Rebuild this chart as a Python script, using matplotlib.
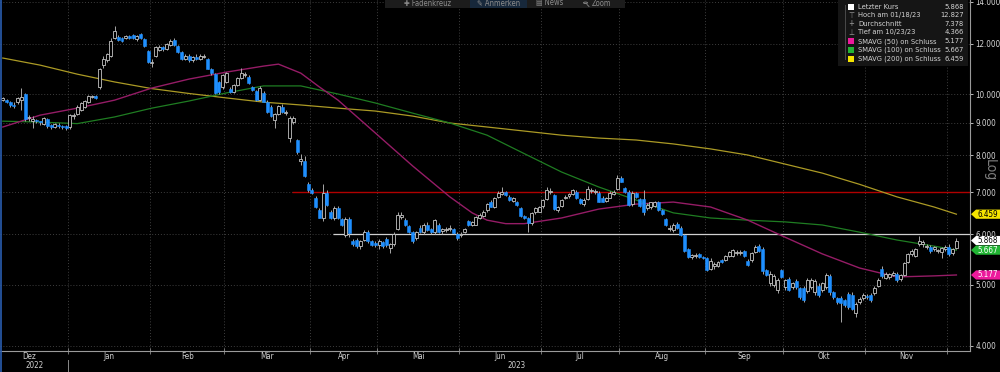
import numpy as np
import pandas as pd
import matplotlib
matplotlib.use("Agg")
import matplotlib.pyplot as plt
from matplotlib.patches import Rectangle, Polygon, Circle
from matplotlib.lines import Line2D
from matplotlib.ticker import NullLocator

plt.rcParams['font.family'] = ['DejaVu Sans']
plt.rcParams['font.stretch'] = 'condensed'

# trading days (Xetra), Dec 6 2022 - Dec 5 2023
holidays = ["2022-12-26", "2023-04-07", "2023-04-10", "2023-05-01"]
dates = pd.bdate_range("2022-12-06", "2023-12-05")
dates = dates[~dates.isin(pd.to_datetime(holidays))]

opens = [9.80, 9.80, 9.72, 9.62, 9.70, 9.80, 10.00, 9.15, 9.06, 9.08,
         9.05, 8.98, 9.12, 8.92, 8.88, 8.95, 8.90, 8.90, 8.86, 9.22,
         9.30, 9.45, 9.55, 9.72, 9.88, 9.92, 10.25, 11.10, 11.30, 11.50,
         12.26, 12.30, 12.25, 12.25, 12.35, 12.40, 12.22, 12.45, 12.20, 11.70,
         11.20, 11.50, 11.75, 11.85, 11.80, 11.95, 12.18, 11.90, 11.65, 11.35,
         11.50, 11.30, 11.45, 11.35, 11.45, 11.35, 10.97, 10.75, 10.45, 10.25,
         10.45, 10.20, 10.08, 10.35, 10.60, 10.72, 10.65, 10.25, 10.12, 9.80,
         10.05, 9.72, 9.55, 9.10, 9.30, 9.55, 9.33, 8.52, 9.02, 8.46,
         7.85, 7.85, 7.20, 7.06, 6.85, 6.56, 6.38, 6.98, 6.50, 6.38,
         6.60, 6.35, 5.98, 6.35, 5.86, 5.88, 5.75, 5.88, 6.05, 5.85,
         5.82, 5.78, 5.83, 5.90, 5.72, 5.80, 6.12, 6.40, 6.33, 6.18,
         6.05, 5.92, 6.15, 6.05, 6.22, 6.13, 6.05, 6.22, 6.08, 6.10,
         6.12, 6.12, 6.02, 5.98, 6.06, 6.30, 6.22, 6.22, 6.38, 6.42,
         6.55, 6.75, 6.63, 6.88, 6.96, 7.00, 6.88, 6.78, 6.75, 6.60,
         6.42, 6.38, 6.25, 6.50, 6.52, 6.65, 6.83, 7.00, 6.92, 6.55,
         6.66, 6.85, 6.90, 6.95, 7.00, 6.82, 6.70, 6.82, 7.02, 7.00,
         6.98, 6.86, 6.78, 6.86, 6.96, 7.08, 7.38, 7.10, 7.00, 6.70,
         6.98, 6.82, 6.82, 6.60, 6.62, 6.66, 6.74, 6.55, 6.34, 6.12,
         6.10, 6.24, 6.15, 5.98, 5.70, 5.52, 5.54, 5.58, 5.52, 5.50,
         5.30, 5.35, 5.35, 5.46, 5.47, 5.55, 5.55, 5.60, 5.60, 5.64,
         5.45, 5.46, 5.62, 5.76, 5.70, 5.27, 5.03, 5.00, 4.90, 5.27,
         4.95, 5.10, 4.95, 5.06, 4.93, 4.93, 4.88, 4.95, 4.86, 4.98,
         4.90, 4.96, 5.16, 4.86, 4.76, 4.76, 4.72, 4.83, 4.82, 4.50,
         4.70, 4.76, 4.80, 4.82, 4.84, 4.98, 5.30, 5.12, 5.14, 5.18,
         5.20, 5.10, 5.18, 5.42, 5.58, 5.55, 5.80, 5.80, 5.74, 5.74,
         5.70, 5.64, 5.62, 5.68, 5.74, 5.60, 5.72]
highs = [9.88, 9.82, 9.75, 9.70, 9.88, 10.22, 10.02, 9.25, 9.22, 9.12,
         9.08, 9.20, 9.15, 8.98, 9.00, 9.00, 8.95, 8.93, 9.30, 9.32,
         9.62, 9.72, 9.80, 9.98, 9.95, 9.97, 11.00, 11.50, 11.60, 12.25,
         12.827, 12.40, 12.30, 12.40, 12.40, 12.45, 12.40, 12.50, 12.25, 11.75,
         11.35, 11.90, 11.95, 11.90, 12.05, 12.20, 12.25, 11.95, 11.70, 11.55,
         11.55, 11.50, 11.55, 11.55, 11.55, 11.40, 11.00, 10.80, 10.50, 10.75,
         10.85, 10.25, 10.38, 10.65, 10.98, 10.85, 10.72, 10.30, 10.15, 10.28,
         10.10, 9.78, 9.60, 9.35, 9.62, 9.65, 9.42, 9.22, 9.22, 8.50,
         8.05, 7.98, 7.25, 7.10, 6.90, 6.60, 7.20, 7.05, 6.55, 6.65,
         6.65, 6.38, 6.40, 6.40, 5.90, 5.92, 5.88, 6.10, 6.10, 5.88,
         5.85, 5.90, 5.86, 5.95, 5.82, 6.05, 6.50, 6.52, 6.38, 6.20,
         6.08, 6.08, 6.20, 6.25, 6.28, 6.15, 6.35, 6.25, 6.15, 6.16,
         6.20, 6.15, 6.05, 6.06, 6.15, 6.33, 6.30, 6.42, 6.48, 6.55,
         6.72, 6.80, 6.88, 7.02, 7.12, 7.04, 6.92, 6.88, 6.78, 6.63,
         6.44, 6.40, 6.50, 6.62, 6.65, 6.82, 7.12, 7.10, 6.96, 6.65,
         6.82, 6.92, 6.98, 7.08, 7.05, 6.85, 6.85, 7.15, 7.10, 7.08,
         7.02, 6.90, 6.88, 7.02, 7.05, 7.45, 7.42, 7.14, 7.05, 7.02,
         7.00, 6.86, 7.05, 6.72, 6.76, 6.78, 6.78, 6.58, 6.37, 6.20,
         6.25, 6.28, 6.18, 6.00, 5.72, 5.58, 5.60, 5.60, 5.55, 5.52,
         5.50, 5.42, 5.44, 5.48, 5.56, 5.64, 5.70, 5.66, 5.66, 5.67,
         5.48, 5.62, 5.78, 5.80, 5.74, 5.30, 5.25, 5.20, 5.12, 5.30,
         5.10, 5.14, 5.05, 5.10, 4.96, 4.98, 5.12, 5.12, 5.10, 5.02,
         5.05, 5.22, 5.20, 4.88, 4.78, 4.79, 4.75, 4.86, 4.86, 4.70,
         4.78, 4.85, 4.83, 4.84, 4.98, 5.12, 5.34, 5.24, 5.22, 5.25,
         5.23, 5.20, 5.42, 5.60, 5.68, 5.72, 5.96, 5.88, 5.80, 5.78,
         5.76, 5.70, 5.74, 5.78, 5.80, 5.72, 5.92]
lows = [9.74, 9.68, 9.55, 9.52, 9.66, 9.45, 9.05, 9.05, 8.85, 9.00,
        8.95, 8.95, 8.85, 8.82, 8.84, 8.85, 8.80, 8.78, 8.82, 9.12,
        9.25, 9.40, 9.50, 9.68, 9.84, 9.82, 10.20, 11.00, 11.25, 11.45,
        12.20, 12.12, 12.10, 12.20, 12.20, 12.20, 12.15, 12.20, 11.85, 11.20,
        11.05, 11.45, 11.70, 11.70, 11.75, 11.90, 11.90, 11.60, 11.30, 11.30,
        11.25, 11.25, 11.30, 11.30, 11.40, 10.95, 10.70, 10.00, 10.00, 10.20,
        10.40, 10.05, 10.02, 10.30, 10.55, 10.65, 10.38, 10.10, 9.75, 9.75,
        9.70, 9.35, 9.20, 8.84, 9.25, 9.35, 9.28, 8.40, 8.98, 8.05,
        7.72, 7.40, 7.00, 6.95, 6.60, 6.36, 6.30, 6.65, 6.35, 6.32,
        6.35, 6.18, 5.95, 5.95, 5.75, 5.72, 5.70, 5.85, 5.82, 5.75,
        5.74, 5.70, 5.72, 5.74, 5.60, 5.75, 6.10, 6.35, 6.18, 6.03,
        5.82, 5.88, 6.03, 6.00, 6.08, 6.02, 6.00, 6.03, 6.02, 6.05,
        6.08, 6.00, 5.88, 5.95, 6.03, 6.18, 6.18, 6.20, 6.35, 6.40,
        6.52, 6.62, 6.60, 6.85, 6.92, 6.90, 6.78, 6.75, 6.66, 6.40,
        6.35, 6.05, 6.22, 6.47, 6.50, 6.60, 6.80, 6.95, 6.55, 6.50,
        6.62, 6.82, 6.86, 6.92, 6.82, 6.70, 6.66, 6.80, 6.98, 6.96,
        6.74, 6.74, 6.75, 6.84, 6.93, 7.05, 7.25, 6.98, 6.65, 6.65,
        6.85, 6.62, 6.45, 6.55, 6.58, 6.62, 6.54, 6.44, 6.18, 6.08,
        6.06, 6.12, 5.96, 5.62, 5.50, 5.48, 5.50, 5.50, 5.48, 5.25,
        5.27, 5.30, 5.32, 5.40, 5.44, 5.52, 5.52, 5.56, 5.57, 5.53,
        5.34, 5.43, 5.60, 5.62, 5.20, 5.15, 4.98, 4.96, 4.85, 5.12,
        4.90, 4.88, 4.92, 4.92, 4.75, 4.70, 4.85, 4.92, 4.82, 4.78,
        4.86, 4.92, 4.82, 4.74, 4.66, 4.366, 4.60, 4.58, 4.55, 4.44,
        4.66, 4.73, 4.74, 4.70, 4.82, 4.95, 5.12, 5.10, 5.10, 5.15,
        5.05, 5.06, 5.15, 5.40, 5.55, 5.52, 5.76, 5.74, 5.68, 5.60,
        5.65, 5.60, 5.50, 5.64, 5.55, 5.56, 5.68]
closes = [9.86, 9.71, 9.60, 9.58, 9.84, 9.88, 9.12, 9.18, 9.12, 9.05,
          9.02, 9.15, 8.90, 8.86, 8.97, 8.90, 8.88, 8.84, 9.25, 9.28,
          9.55, 9.68, 9.76, 9.92, 9.90, 9.86, 10.95, 11.35, 11.55, 12.15,
          12.60, 12.18, 12.15, 12.35, 12.25, 12.25, 12.35, 12.25, 11.90, 11.25,
          11.25, 11.85, 11.85, 11.78, 11.98, 12.15, 11.95, 11.65, 11.35, 11.50,
          11.30, 11.45, 11.35, 11.50, 11.50, 10.97, 10.78, 10.05, 10.07, 10.70,
          10.78, 10.08, 10.33, 10.60, 10.80, 10.76, 10.42, 10.13, 9.78, 10.22,
          9.72, 9.38, 9.23, 9.30, 9.58, 9.38, 9.37, 9.17, 9.18, 8.10,
          7.90, 7.42, 7.05, 6.98, 6.62, 6.38, 6.98, 6.68, 6.38, 6.60,
          6.38, 6.21, 6.35, 6.03, 5.80, 5.75, 5.85, 6.05, 5.85, 5.78,
          5.77, 5.85, 5.76, 5.77, 5.80, 6.02, 6.44, 6.45, 6.20, 6.06,
          5.85, 6.05, 6.05, 6.20, 6.10, 6.05, 6.32, 6.06, 6.11, 6.13,
          6.15, 6.03, 5.92, 6.02, 6.12, 6.20, 6.27, 6.40, 6.45, 6.50,
          6.70, 6.64, 6.85, 6.98, 7.00, 6.92, 6.80, 6.86, 6.68, 6.42,
          6.38, 6.25, 6.48, 6.60, 6.62, 6.80, 7.05, 7.02, 6.58, 6.63,
          6.80, 6.88, 6.95, 7.05, 6.86, 6.72, 6.80, 7.08, 7.05, 7.04,
          6.76, 6.76, 6.85, 6.98, 7.00, 7.38, 7.27, 7.00, 6.68, 6.98,
          6.88, 6.66, 6.50, 6.68, 6.74, 6.74, 6.56, 6.47, 6.21, 6.15,
          6.21, 6.15, 5.98, 5.65, 5.52, 5.56, 5.57, 5.53, 5.50, 5.28,
          5.45, 5.38, 5.42, 5.43, 5.54, 5.62, 5.67, 5.62, 5.63, 5.55,
          5.37, 5.60, 5.74, 5.64, 5.25, 5.18, 5.20, 5.16, 5.08, 5.14,
          5.08, 4.90, 5.02, 4.95, 4.78, 4.73, 5.08, 5.08, 5.06, 4.82,
          5.02, 5.18, 4.86, 4.77, 4.69, 4.68, 4.64, 4.60, 4.58, 4.66,
          4.74, 4.81, 4.77, 4.73, 4.94, 5.08, 5.15, 5.20, 5.20, 5.22,
          5.08, 5.17, 5.40, 5.58, 5.65, 5.70, 5.86, 5.84, 5.76, 5.64,
          5.72, 5.67, 5.72, 5.74, 5.58, 5.70, 5.868]

# moving averages (trading-day index, value)
sma50_idx = [0, 10, 20, 30, 40, 50, 60, 70, 74, 80, 85, 90, 100, 110, 120, 126, 130, 135,
             140, 150, 160, 170, 180, 190, 200, 210, 220, 230, 240, 250, 256]
sma50_val = [8.87, 9.26, 9.50, 9.78, 10.22, 10.56, 10.83, 11.07, 11.15, 10.79, 10.26, 9.78,
             8.68, 7.70, 6.88, 6.49, 6.32, 6.24, 6.24, 6.37, 6.58, 6.70, 6.75, 6.63, 6.32,
             5.94, 5.59, 5.31, 5.14, 5.16, 5.177]
ma_idx = [0, 10, 20, 30, 40, 50, 60, 70, 80, 90, 100, 110, 120, 130, 140, 150, 160, 170,
          180, 190, 200, 210, 220, 230, 240, 250, 256]
sma100_val = [9.06, 9.03, 8.98, 9.20, 9.50, 9.75, 10.04, 10.30, 10.30, 10.00, 9.68, 9.33,
              9.00, 8.61, 8.05, 7.53, 7.13, 6.80, 6.49, 6.37, 6.32, 6.28, 6.21, 6.05, 5.88,
              5.75, 5.667]
sma200_val = [11.40, 11.11, 10.75, 10.45, 10.20, 10.02, 9.86, 9.71, 9.61, 9.50, 9.40, 9.23,
              9.00, 8.87, 8.74, 8.61, 8.52, 8.46, 8.34, 8.19, 8.01, 7.75, 7.50, 7.20, 6.88,
              6.63, 6.459]

resistance = 7.0
support = 6.0
y_ticks = [4, 5, 6, 7, 8, 9, 10, 12, 14]
month_names = ["Jan", "Feb", "Mär", "Apr", "Mai", "Jun", "Jul", "Aug", "Sep", "Okt", "Nov", "Dez"]

legend_labels = ["Letzter Kurs", "Hoch am 01/18/23", "Durchschnitt", "Tief am 10/23/23",
                 "SMAVG (50) on Schluss", "SMAVG (100) on Schluss", "SMAVG (200) on Schluss"]
legend_values = ["5.868", "12.827", "7.378", "4.366", "5.177", "5.667", "6.459"]

c_up = "#c4c4c4"
c_down = "#1e8fff"
c_50, c_100, c_200 = "#951c66", "#1f7d22", "#ab9a25"
tag_50, tag_100, tag_200 = "#ec1a9c", "#22b534", "#f5e400"

W, H = 1000, 372
fig = plt.figure(figsize=(W / 100, H / 100), dpi=100, facecolor="black")
ax = fig.add_axes([0, 21 / H, 0.97, 351 / H])
ax.set_facecolor("black")
ax.set_yscale("log")
ax.set_ylim(3.926, 14.08)
ax.set_xlim(-0.75, 259.65)

idx = np.arange(len(dates))
o = np.array(opens)
h = np.array(highs)
l = np.array(lows)
c = np.array(closes)

# month boundaries
per = dates.to_period("M")
bounds = [i - 0.5 for i in range(1, len(dates)) if per[i] != per[i - 1]]

for v in y_ticks:
    ax.axhline(v, color="#3e3e3e", lw=0.7, ls=(0, (1, 2)), zorder=1)
for b in bounds:
    ax.axvline(b, color="#3e3e3e", lw=0.7, ls=(0, (1, 2)), zorder=1)

ax.hlines(resistance, 77.6, 259.65, color="#b00000", lw=1.0, zorder=2)
ax.hlines(support, 88.6, 259.65, color="#d0d0d0", lw=0.9, zorder=2)

ax.plot(ma_idx, sma200_val, color=c_200, lw=0.9, zorder=2)
ax.plot(ma_idx, sma100_val, color=c_100, lw=0.9, zorder=2)
ax.plot(sma50_idx, sma50_val, color=c_50, lw=1.0, zorder=2)

# candles
bottoms = np.minimum(o, c)
heights = np.maximum(np.abs(c - o), c * 0.004)
up = c >= o
ax.vlines(idx, l, h, colors="#a8a8a8", lw=0.7, zorder=3)
ax.bar(idx[up], heights[up], bottom=bottoms[up], width=0.8, facecolor="black",
       edgecolor=c_up, linewidth=0.6, zorder=4)
ax.bar(idx[~up], heights[~up], bottom=bottoms[~up], width=0.8, facecolor=c_down,
       edgecolor=c_down, linewidth=0.4, zorder=4)

# axes styling
for s in ["left", "top"]:
    ax.spines[s].set_visible(False)
for s in ["right", "bottom"]:
    ax.spines[s].set_color("#9a9a9a")
    ax.spines[s].set_linewidth(0.8)
ax.yaxis.tick_right()
ax.set_yticks(y_ticks)
ax.set_yticklabels([f"{v:.3f}" for v in y_ticks])
ax.yaxis.set_minor_locator(NullLocator())
ax.tick_params(axis="y", colors="#d8d8d8", labelsize=5.8, length=2.5, width=0.6, pad=1.5)
ax.set_xticks(bounds)
ax.set_xticklabels([])
ax.tick_params(axis="x", direction="inout", length=4, color="#8a8a8a", width=0.6)

# month labels (centred on each full month)
trans = ax.get_xaxis_transform()
for p in per.unique()[:-1]:
    last = np.where(per == p)[0][-1]
    full = pd.bdate_range(p.start_time, p.end_time)
    full = full[~full.isin(pd.to_datetime(holidays))]
    end = last + 0.5
    mid = end - len(full) / 2
    ax.text(mid, -5.5 / 351, month_names[p.month - 1], transform=trans, ha="center",
            va="center", color="#d0d0d0", fontsize=5.8, clip_on=False)
ax.text(8.5, -15 / 351, "2022", transform=trans, ha="center", va="center", color="#d0d0d0",
        fontsize=5.8)
ax.text(138, -15 / 351, "2023", transform=trans, ha="center", va="center", color="#d0d0d0",
        fontsize=5.8)
fig.add_artist(Line2D([68 / W, 68 / W], [1 - 360 / H, 1 - 371 / H], color="#8a8a8a", lw=0.7))

# left edge line
fig.add_artist(Line2D([0.0005, 0.0005], [0, 1], color="#2a5db0", lw=1.2))

# value tags on the right
fig.canvas.draw()
tags = [(6.459, tag_200, "black"), (5.868, "white", "black"),
        (5.667, tag_100, "white"), (5.177, tag_50, "white")]
for val, fc, tc in tags:
    yd = ax.transData.transform((0, val))[1] / H
    hh = 4.6 / H
    pts = [(971 / W, yd), (976 / W, yd + hh), (1000 / W, yd + hh), (1000 / W, yd - hh), (976 / W, yd - hh)]
    fig.add_artist(Polygon(pts, closed=True, facecolor=fc, edgecolor="none", transform=fig.transFigure,
                           zorder=4))
    fig.text(988 / W, yd, f"{val:.3f}", color=tc, fontsize=5.8, ha="center", va="center", zorder=5)

fig.text(990 / W, 1 - 170 / H, "Log", rotation=-90, color="#7c7c7c", fontsize=10,
         ha="center", va="center")

# legend box
fig.add_artist(Rectangle((838 / W, 1 - 66 / H), 130 / W, 66 / H, facecolor="#151515",
                         edgecolor="none", transform=fig.transFigure, zorder=5))
row_y = [6.7, 15.3, 24, 32.3, 41.3, 50, 58.7]
fig.add_artist(Line2D([845 / W, 845 / W], [1 - 5 / H, 1 - 59 / H], color="#4a4a4a", lw=0.7, zorder=6))
marks = ["white", "⊤", "+", "⊥", tag_50, tag_100, tag_200]
for ry, lab, val, mk in zip(row_y, legend_labels, legend_values, marks):
    yy = 1 - ry / H
    if mk.startswith("#") or mk == "white":
        fig.add_artist(Rectangle((848 / W, yy - 3 / H), 6 / W, 6 / H, facecolor=mk,
                                 edgecolor="none", transform=fig.transFigure, zorder=6))
    else:
        fig.text(851 / W, yy, mk, color="#9a9a9a", fontsize=5.5, ha="center", va="center", zorder=6)
    fig.text(858 / W, yy, lab, color="#d4d4d4", fontsize=5.4, ha="left", va="center", zorder=6)
    fig.text(964 / W, yy, val, color="#d4d4d4", fontsize=5.4, ha="right", va="center", zorder=6)

# toolbar strip at the top
buttons = [("✚ Fadenkreuz", 385, 470, "#1c1c1c"), ("✎ Anmerken", 470, 527, "#17283b"),
           ("▤ News", 527, 572, "#1c1c1c"), ("Zoom", 572, 625, "#1c1c1c")]
for txt, x0, x1, bg in buttons:
    fig.add_artist(Rectangle((x0 / W, 1 - 8 / H), (x1 - x0) / W, 8 / H, facecolor=bg,
                             edgecolor="none", transform=fig.transFigure, zorder=5))
    fig.text((x0 + x1) / 2 / W + (3 / W if txt == "Zoom" else 0), 1 - 3 / H, txt,
             color="#8c8c8c", fontsize=5.5, ha="center", va="center", zorder=6)
# magnifier icon drawn as a shape
fig.add_artist(Circle((585.5 / W, 1 - 2.8 / H), 2.0 / W, facecolor="none", edgecolor="#8c8c8c",
                      lw=0.6, transform=fig.transFigure, zorder=6))
fig.add_artist(Line2D([587 / W, 589 / W], [1 - 4.5 / H, 1 - 6.5 / H], color="#8c8c8c", lw=0.6, zorder=6))

fig.savefig("out.png", dpi=100, facecolor="black")
